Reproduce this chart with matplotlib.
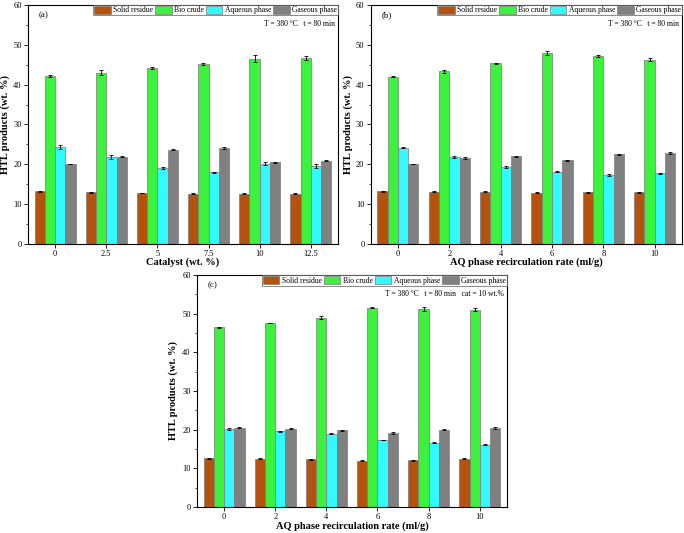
import matplotlib

matplotlib.use("Agg")

import matplotlib.pyplot as plt
import numpy as np
from matplotlib.ticker import MultipleLocator

plt.rcParams["font.family"] = ["Liberation Serif", "DejaVu Serif"]

series = ["Solid residue", "Bio crude", "Aqueous phase", "Gaseous phase"]
colors = ["#B5520E", "#3CF23C", "#33FAFF", "#808080"]

# panel (a): catalyst loading
cat_labels = ["0", "2.5", "5", "7.5", "10", "12.5"]
a_solid = [13.2, 13.0, 12.8, 12.6, 12.6, 12.6]
a_bio = [42.1, 43.0, 44.2, 45.1, 46.5, 46.7]
a_aq = [24.3, 21.8, 19.1, 18.0, 20.2, 19.6]
a_gas = [20.1, 21.9, 23.7, 24.1, 20.5, 20.9]
a_err = [[0.1, 0.1, 0.1, 0.1, 0.1, 0.1],
         [0.2, 0.6, 0.2, 0.3, 0.8, 0.5],
         [0.5, 0.5, 0.3, 0.1, 0.4, 0.4],
         [0.1, 0.1, 0.1, 0.2, 0.2, 0.1]]

# panel (b): AQ recirculation, no catalyst
rec_labels = ["0", "2", "4", "6", "8", "10"]
b_solid = [13.2, 13.1, 13.1, 12.9, 13.0, 13.0]
b_bio = [42.0, 43.3, 45.3, 47.8, 47.1, 46.2]
b_aq = [24.2, 21.8, 19.3, 18.2, 17.3, 17.8]
b_gas = [20.1, 21.6, 22.0, 21.0, 22.5, 22.8]
b_err = [[0.1, 0.1, 0.1, 0.1, 0.1, 0.1],
         [0.2, 0.3, 0.2, 0.5, 0.2, 0.4],
         [0.1, 0.2, 0.3, 0.1, 0.3, 0.1],
         [0.1, 0.2, 0.2, 0.1, 0.1, 0.3]]

# panel (c): AQ recirculation with 10 wt.% catalyst
c_solid = [12.6, 12.5, 12.3, 12.0, 12.1, 12.5]
c_bio = [46.5, 47.6, 49.0, 51.5, 51.2, 51.0]
c_aq = [20.2, 19.6, 18.9, 17.3, 16.6, 16.1]
c_gas = [20.5, 20.2, 19.8, 19.1, 20.0, 20.4]
c_err = [[0.1, 0.1, 0.1, 0.1, 0.1, 0.1],
         [0.1, 0.1, 0.4, 0.1, 0.4, 0.4],
         [0.2, 0.1, 0.1, 0.1, 0.1, 0.1],
         [0.1, 0.1, 0.1, 0.2, 0.1, 0.2]]

panels = [
    ("(a)", cat_labels, [a_solid, a_bio, a_aq, a_gas], a_err,
     "Catalyst (wt. %)", "T = 380 \u00b0C   t = 80 min",
     [0.041, 0.542, 0.453, 0.449], -0.058, -0.077),
    ("(b)", rec_labels, [b_solid, b_bio, b_aq, b_gas], b_err,
     "AQ phase recirculation rate (ml/g)", "T = 380 \u00b0C   t = 80 min",
     [0.542, 0.542, 0.455, 0.449], -0.058, -0.077),
    ("(c)", rec_labels, [c_solid, c_bio, c_aq, c_gas], c_err,
     "AQ phase recirculation rate (ml/g)",
     "T = 380 \u00b0C   t = 80 min   cat = 10 wt.%",
     [0.288, 0.049, 0.453, 0.435], -0.062, -0.082),
]

fig = plt.figure(figsize=(6.84, 5.33), dpi=100)
width = 0.2

for tag, labels, vals, errs, xlabel, cond, rect, ylx, xly in panels:
    ax = fig.add_axes(rect)
    x = np.arange(len(labels))
    for i, (name, v, e, c) in enumerate(zip(series, vals, errs, colors)):
        ax.bar(x + (i - 1.5) * width, v, width, yerr=e, color=c,
               edgecolor="#7a7a7a", linewidth=0.5, label=name,
               error_kw=dict(elinewidth=0.6, capsize=1.2, capthick=0.6, ecolor="black"))
    ax.set_xlim(-0.53, len(labels) - 0.47)
    ax.set_ylim(0, 60)
    ax.set_xticks(x)
    ax.set_xticklabels(labels)
    ax.yaxis.set_major_locator(MultipleLocator(10))
    ax.yaxis.set_minor_locator(MultipleLocator(5))
    ax.tick_params(labelsize=6, length=3, width=0.6, pad=1.5)
    ax.tick_params(which="minor", length=1.5, width=0.5)
    for s in ax.spines.values():
        s.set_linewidth(0.8)
    ax.set_xlabel(xlabel, fontsize=7.5, fontweight="bold", va="center")
    ax.set_ylabel("HTL products (wt. %)", fontsize=7.5, fontweight="bold")
    ax.yaxis.set_label_coords(ylx, 0.5)
    ax.xaxis.set_label_coords(0.5, xly)
    ax.text(0.035, 0.955, tag, transform=ax.transAxes, fontsize=6.5,
            ha="left", va="center")
    ax.text(0.99, 0.92, cond, transform=ax.transAxes, fontsize=5.5,
            ha="right", va="center")
    leg = ax.legend(loc="upper right", ncol=4, fontsize=5.5, frameon=True,
                    fancybox=False, edgecolor="#555555", borderpad=0.12,
                    handlelength=2.2, handleheight=1.3, handletextpad=0.3,
                    columnspacing=0.25, borderaxespad=0.0)
    leg.get_frame().set_linewidth(0.6)

fig.savefig("out.png", dpi=100)
